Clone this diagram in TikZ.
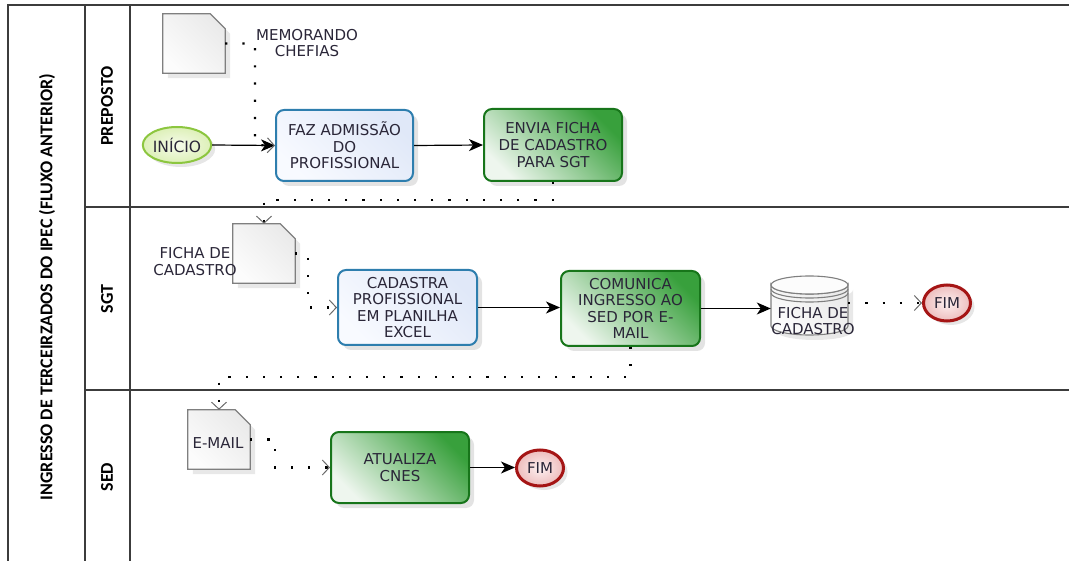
\documentclass[tikz,border=0pt]{standalone}
\usepackage{fontspec}
\setmainfont{DejaVu Sans}
\newfontfamily\lanefont{Carlito}
\usetikzlibrary{arrows.meta,shadows,calc,shapes.geometric}
\definecolor{frame}{HTML}{3C3C3C}
\definecolor{txt}{HTML}{2A2638}
\definecolor{bluebd}{HTML}{2E7EAE}
\definecolor{bluefa}{HTML}{F8FAFF}
\definecolor{bluefb}{HTML}{E0E8F8}
\definecolor{greenbd}{HTML}{17751A}
\definecolor{greenfa}{HTML}{EEF6EE}
\definecolor{greenfb}{HTML}{38A03C}
\definecolor{docbd}{HTML}{7F7F7F}
\definecolor{docfa}{HTML}{FCFCFC}
\definecolor{docfb}{HTML}{EAEAEA}
\definecolor{startbd}{HTML}{8CC63F}
\definecolor{startfa}{HTML}{F6FBEA}
\definecolor{startfb}{HTML}{DDF0B8}
\definecolor{endbd}{HTML}{A51515}
\definecolor{endfa}{HTML}{FDF0F0}
\definecolor{endfb}{HTML}{EDBDBD}
\definecolor{chev}{HTML}{6A6A6A}
\newcommand\drawdoc[1]{%
  \path[draw=docbd, line width=1.2pt, left color=docfa, right color=docfb, shading angle=135,
        drop shadow={opacity=0.18, shadow xshift=5pt, shadow yshift=-5pt}]
    (#1.north west) -- ($(#1.north east)+(-15,0)$) -- ($(#1.north east)+(0,15)$)
    -- (#1.south east) -- (#1.south west) -- cycle;}
\begin{document}
\begin{tikzpicture}[x=1pt,y=-1pt,
  lane/.style={font=\lanefont\bfseries\fontsize{18}{18}\selectfont, rotate=90, text=black},
  framel/.style={draw=frame, line width=1.3pt},
  task/.style={rounded corners=8pt, line width=2pt, align=center, text=txt, inner sep=0pt,
     font=\fontsize{15}{16.6}\selectfont,
     drop shadow={opacity=0.22, shadow xshift=5pt, shadow yshift=-5pt}},
  bluetask/.style={task, draw=bluebd, left color=bluefa, right color=bluefb, shading angle=135},
  greentask/.style={task, draw=greenbd, left color=greenfa, right color=greenfb, shading angle=135},
  docnode/.style={rectangle, minimum width=62pt, minimum height=59pt, inner sep=0pt},
  lbl/.style={text=txt, align=center, font=\fontsize{15}{16.6}\selectfont, inner sep=0pt},
  startev/.style={ellipse, minimum width=46pt, minimum height=36pt, inner sep=0pt, line width=2pt,
     draw=startbd, inner color=startfa, outer color=startfb, text=txt, font=\fontsize{15.5}{16}\selectfont,
     drop shadow={opacity=0.2, shadow xshift=4pt, shadow yshift=-4pt}},
  endev/.style={ellipse, minimum width=47pt, minimum height=36pt, inner sep=0pt, line width=3pt,
     draw=endbd, inner color=endfa, outer color=endfb, text=txt, font=\fontsize{15}{16}\selectfont,
     drop shadow={opacity=0.2, shadow xshift=4pt, shadow yshift=-4pt}},
  flow/.style={draw=black, line width=1.2pt, -{Stealth[length=14pt,width=12pt,inset=4pt]}},
  dots/.style={draw=black, line width=2.2pt, dash pattern=on 2.2pt off 15pt},
  dotarrow/.style={dots, -{Straight Barb[length=7pt,width=15pt,line width=1pt,color=chev]}}
]
\useasboundingbox (0,0) rectangle (1069,561);
% frame
\draw[framel] (8,561) -- (8,5) -- (1069,5);
\draw[framel] (85,5) -- (85,561);
\draw[framel] (130,5) -- (130,561);
\draw[framel] (85,207) -- (1069,207);
\draw[framel] (85,390) -- (1069,390);
% lane labels
\node[lane] (title) at (47,287) {INGRESSO DE TERCEIRZADOS DO IPEC (FLUXO ANTERIOR)};
\node[lane] (lprep) at (107,106) {PREPOSTO};
\node[lane] (lsgt) at (107,299) {SGT};
\node[lane] (lsed) at (107,477) {SED};
% documents
\node[docnode] (memo) at (194,43.5) {};
\drawdoc{memo}
\node[lbl] (memolbl) at (307,43) {MEMORANDO\\CHEFIAS};
\node[docnode] (fichadoc) at (264,253.5) {};
\drawdoc{fichadoc}
\node[lbl] (fichalbl) at (195,261.5) {FICHA DE\\CADASTRO};
\node[docnode] (email) at (219,439.5) {};
\drawdoc{email}
\node[lbl] (emaillbl) at (218,443) {E-MAIL};
% events
\node[startev] (inicio) at (177,145) {INÍCIO};
\node[endev] (fim1) at (947,303) {FIM};
\node[endev] (fim2) at (540,468) {FIM};
% tasks
\node[bluetask, minimum width=137pt, minimum height=71pt] (faz) at (344.5,145.5) {FAZ ADMISSÃO\\DO\\PROFISSIONAL};
\node[greentask, minimum width=138pt, minimum height=72pt] (envia) at (553,145) {ENVIA FICHA\\DE CADASTRO\\PARA SGT};
\node[bluetask, minimum width=139pt, minimum height=75pt] (cadastra) at (407.5,307.5) {CADASTRA\\PROFISSIONAL\\EM PLANILHA\\EXCEL};
\node[greentask, minimum width=139pt, minimum height=75pt] (comunica) at (630.5,308.5) {COMUNICA\\INGRESSO AO\\SED POR E-\\MAIL};
\node[greentask, minimum width=138pt, minimum height=71pt] (atualiza) at (400,467.5) {ATUALIZA\\CNES};
% data store
\node[rectangle, minimum width=77pt, minimum height=59pt, inner sep=0pt] (ds) at (809.5,305.5) {};
\path[draw=docbd, line width=1.1pt, left color=docfa, right color=docfb, shading angle=135,
      drop shadow={opacity=0.18, shadow xshift=5pt, shadow yshift=-5pt}]
  (771,285) -- (771,326) arc[start angle=180, end angle=0, x radius=38.5, y radius=9]
  -- (848,285) arc[start angle=0, end angle=180, x radius=38.5, y radius=9] -- cycle;
\draw[draw=docbd, line width=1.1pt, fill=docfa] (809.5,285) ellipse [x radius=38.5, y radius=9];
\draw[draw=docbd, line width=1.1pt] (771,289) arc[start angle=180, end angle=0, x radius=38.5, y radius=9];
\draw[draw=docbd, line width=1.1pt] (771,293) arc[start angle=180, end angle=0, x radius=38.5, y radius=9];
\node[lbl] (dslbl) at (813,321) {FICHA DE\\CADASTRO};
% solid flows
\draw[flow] (inicio.east) -- (faz.west);
\draw[flow] (faz.east) -- (envia.west);
\draw[flow] (cadastra.east) -- (cadastra.east -| comunica.west);
\draw[flow] (comunica.east) -- (comunica.east -| ds.west);
\draw[flow] (atualiza.east) -- (atualiza.east -| fim2.west);
% dotted associations
\draw[dotarrow] (memo.east) -- (255,43.5) -- (255,145) -- (faz.west);
\draw[dotarrow] (envia.south) -- (553,200) -- (264,200) -- (fichadoc.north);
\draw[dotarrow] (fichadoc.east) -- (308,253.5) -- (308,307.5) -- (cadastra.west);
\draw[dotarrow] (comunica.south) -- (630.5,377) -- (219,377) -- (email.north);
\draw[dotarrow] (email.east) -- (275,439.5) -- (275,467.5) -- (atualiza.west);
\draw[dotarrow] (ds.east |- fim1.west) -- (fim1.west);
\end{tikzpicture}
\end{document}
